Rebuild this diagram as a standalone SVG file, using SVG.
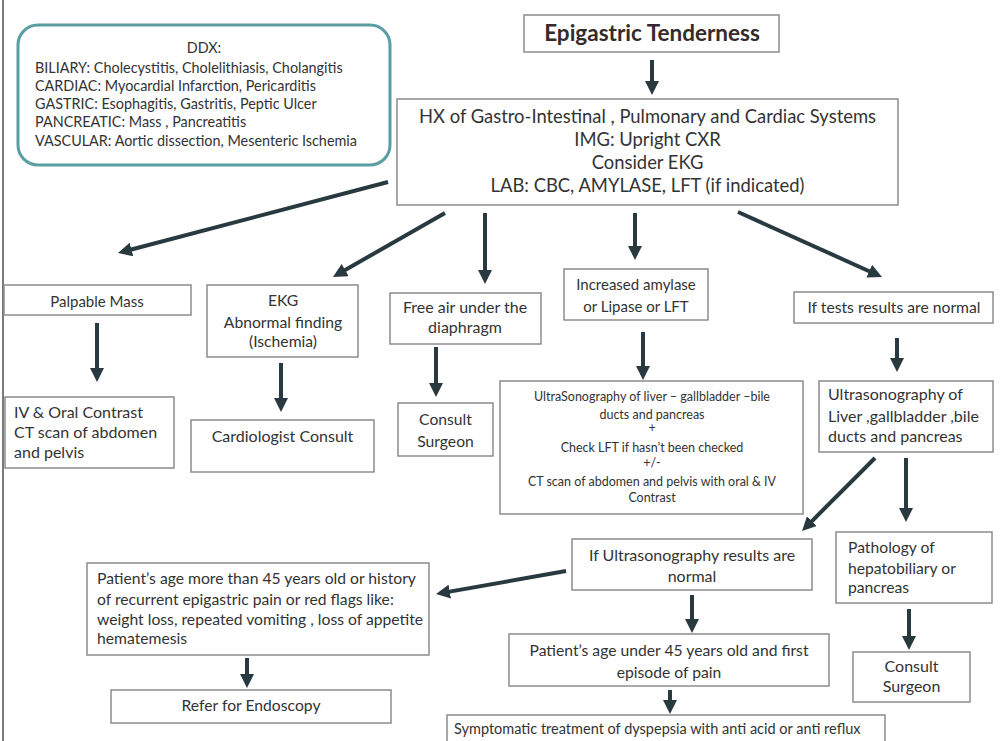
<svg xmlns="http://www.w3.org/2000/svg" width="1000" height="741" viewBox="0 0 1000 741">
<style>
text{font-family:Lato,"Open Sans","Liberation Sans",sans-serif;fill:#333;}
.box{fill:#fff;stroke:#8c8c8c;stroke-width:1.5;}
.c{text-anchor:middle;}
.f15{font-size:15px;}
.f16{font-size:16px;}
.f157{font-size:15.7px;}
.f12{font-size:12.5px;}
.f18{font-size:18.4px;}
.f14{font-size:14.4px;}
.conn line{stroke:#283a40;stroke-width:4;marker-end:url(#ah);}
</style>
<defs>
<marker id="ah" viewBox="0 0 14 14" refX="6" refY="7" markerWidth="14" markerHeight="14" markerUnits="userSpaceOnUse" orient="auto">
<path d="M0,0 L14,7 L0,14 z" fill="#283a40"/>
</marker>
</defs>
<rect x="0" y="0" width="1000" height="741" fill="#fff"/>
<line x1="3" y1="0" x2="3" y2="741" stroke="#7a7a7a" stroke-width="2"/>

<g id="ddx">
<rect x="18" y="25" width="372" height="140" rx="20" ry="20" fill="#fff" stroke="#5a9ea2" stroke-width="3"/>
<text class="f14 c" x="204" y="53">DDX:</text>
<text class="f14" x="35" y="73">BILIARY: Cholecystitis, Cholelithiasis, Cholangitis</text>
<text class="f14" x="35" y="91">CARDIAC: Myocardial Infarction, Pericarditis</text>
<text class="f14" x="35" y="109">GASTRIC: Esophagitis, Gastritis, Peptic Ulcer</text>
<text class="f14" x="35" y="127">PANCREATIC: Mass , Pancreatitis</text>
<text class="f14" x="35" y="146">VASCULAR: Aortic dissection, Mesenteric Ischemia</text>
</g>

<g id="epigastric">
<rect class="box" x="524" y="15" width="255" height="37"/>
<text class="c" x="652" y="41" style="font-size:22.5px;font-weight:bold;fill:#362a2a">Epigastric Tenderness</text>
</g>

<g id="hx">
<rect class="box" x="397" y="99" width="501" height="106"/>
<text class="f18 c" x="647.5" y="123">HX of Gastro-Intestinal , Pulmonary and Cardiac Systems</text>
<text class="f18 c" x="647.5" y="146">IMG: Upright CXR</text>
<text class="f18 c" x="647.5" y="169">Consider EKG</text>
<text class="f18 c" x="647.5" y="192">LAB: CBC, AMYLASE, LFT (if indicated)</text>
</g>

<g id="palpable">
<rect class="box" x="4" y="285" width="187" height="30"/>
<text class="f15 c" x="97" y="307">Palpable Mass</text>
</g>

<g id="ekg">
<rect class="box" x="207" y="285" width="151" height="72"/>
<text class="f157 c" x="283" y="306">EKG</text>
<text class="f157 c" x="283" y="328">Abnormal finding</text>
<text class="f157 c" x="283" y="347">(Ischemia)</text>
</g>

<g id="freeair">
<rect class="box" x="390" y="293" width="151" height="51"/>
<text class="f16 c" x="465" y="313">Free air under the</text>
<text class="f16 c" x="465" y="333">diaphragm</text>
</g>

<g id="amylase">
<rect class="box" x="564" y="269" width="144" height="51"/>
<text class="f15 c" x="636" y="290">Increased amylase</text>
<text class="f15 c" x="636" y="312">or Lipase or LFT</text>
</g>

<g id="normal">
<rect class="box" x="794" y="292" width="199" height="31"/>
<text class="f157 c" x="894" y="313">If tests  results are normal</text>
</g>

<g id="ct">
<rect class="box" x="5" y="397" width="169" height="71"/>
<text class="f16" x="14" y="418">IV &amp; Oral Contrast</text>
<text class="f16" x="14" y="438">CT scan of abdomen</text>
<text class="f16" x="14" y="458">and pelvis</text>
</g>

<g id="cardio">
<rect class="box" x="191" y="420" width="183" height="52"/>
<text class="f16 c" x="282.5" y="442">Cardiologist Consult</text>
</g>

<g id="surgeon1">
<rect class="box" x="398" y="403" width="95" height="53"/>
<text class="f157 c" x="445.5" y="425">Consult</text>
<text class="f157 c" x="445.5" y="447">Surgeon</text>
</g>

<g id="us1">
<rect class="box" x="500" y="381" width="303" height="133"/>
<text class="f12 c" x="652" y="401">UltraSonography of liver – gallbladder –bile</text>
<text class="f12 c" x="652" y="419">ducts and pancreas</text>
<text class="f12 c" x="652" y="432">+</text>
<text class="f12 c" x="652" y="452">Check LFT  if hasn’t been checked</text>
<text class="f12 c" x="652" y="467">+/-</text>
<text class="f12 c" x="652" y="486">CT scan of abdomen and pelvis with  oral  &amp; IV</text>
<text class="f12 c" x="652" y="502">Contrast</text>
</g>

<g id="us2">
<rect class="box" x="819" y="381" width="174" height="71"/>
<text class="f16" x="828" y="400">Ultrasonography of</text>
<text class="f16" x="828" y="422">Liver ,gallbladder ,bile</text>
<text class="f16" x="828" y="442">ducts and pancreas</text>
</g>

<g id="usnormal">
<rect class="box" x="572" y="539" width="240" height="51"/>
<text class="f16 c" x="692" y="561">If Ultrasonography results are</text>
<text class="f16 c" x="692" y="582">normal</text>
</g>

<g id="pathology">
<rect class="box" x="836" y="532" width="156" height="71"/>
<text class="f157" x="848" y="553">Pathology of</text>
<text class="f157" x="848" y="574">hepatobiliary or</text>
<text class="f157" x="848" y="593">pancreas</text>
</g>

<g id="surgeon2">
<rect class="box" x="853" y="652" width="117" height="50"/>
<text class="f16 c" x="911.5" y="672">Consult</text>
<text class="f16 c" x="911.5" y="692">Surgeon</text>
</g>

<g id="over45">
<rect class="box" x="87" y="563" width="342" height="92"/>
<text class="f157" x="97" y="584">Patient’s age more than 45 years old or history</text>
<text class="f157" x="97" y="605">of recurrent epigastric pain  or red flags like:</text>
<text class="f157" x="97" y="625">weight loss, repeated vomiting , loss of appetite</text>
<text class="f157" x="97" y="644">hematemesis</text>
</g>

<g id="endoscopy">
<rect class="box" x="111" y="690" width="280" height="33"/>
<text class="f157 c" x="251" y="711">Refer for Endoscopy</text>
</g>

<g id="under45">
<rect class="box" x="509" y="634" width="320" height="52"/>
<text class="f157 c" x="669" y="656">Patient’s age under 45 years old and first</text>
<text class="f157 c" x="669" y="678">episode of pain</text>
</g>

<g id="symptomatic">
<rect class="box" x="447" y="715" width="438" height="40"/>
<text x="454" y="734" style="font-size:14.5px">Symptomatic treatment of dyspepsia with anti acid or anti reflux</text>
</g>

<g id="connectors" class="conn">
<line x1="652" y1="60" x2="652" y2="87"/>
<line x1="388" y1="182" x2="125.7" y2="251"/>
<line x1="445" y1="213" x2="339.9" y2="273"/>
<line x1="485" y1="213" x2="485" y2="276"/>
<line x1="635" y1="213" x2="635" y2="252"/>
<line x1="738" y1="212" x2="874.7" y2="273.7"/>
<line x1="97" y1="323" x2="97" y2="374"/>
<line x1="281" y1="363" x2="281" y2="404"/>
<line x1="436" y1="347" x2="436" y2="389"/>
<line x1="643" y1="332" x2="643" y2="372"/>
<line x1="897" y1="338" x2="897" y2="364"/>
<line x1="875" y1="458" x2="807.7" y2="525.3"/>
<line x1="906" y1="458" x2="906" y2="514"/>
<line x1="566" y1="571" x2="443.9" y2="592.6"/>
<line x1="247" y1="658" x2="247" y2="680"/>
<line x1="692" y1="595" x2="692" y2="625"/>
<line x1="909" y1="609" x2="909" y2="642"/>
<line x1="670" y1="690" x2="670" y2="706"/>
</g>
</svg>
